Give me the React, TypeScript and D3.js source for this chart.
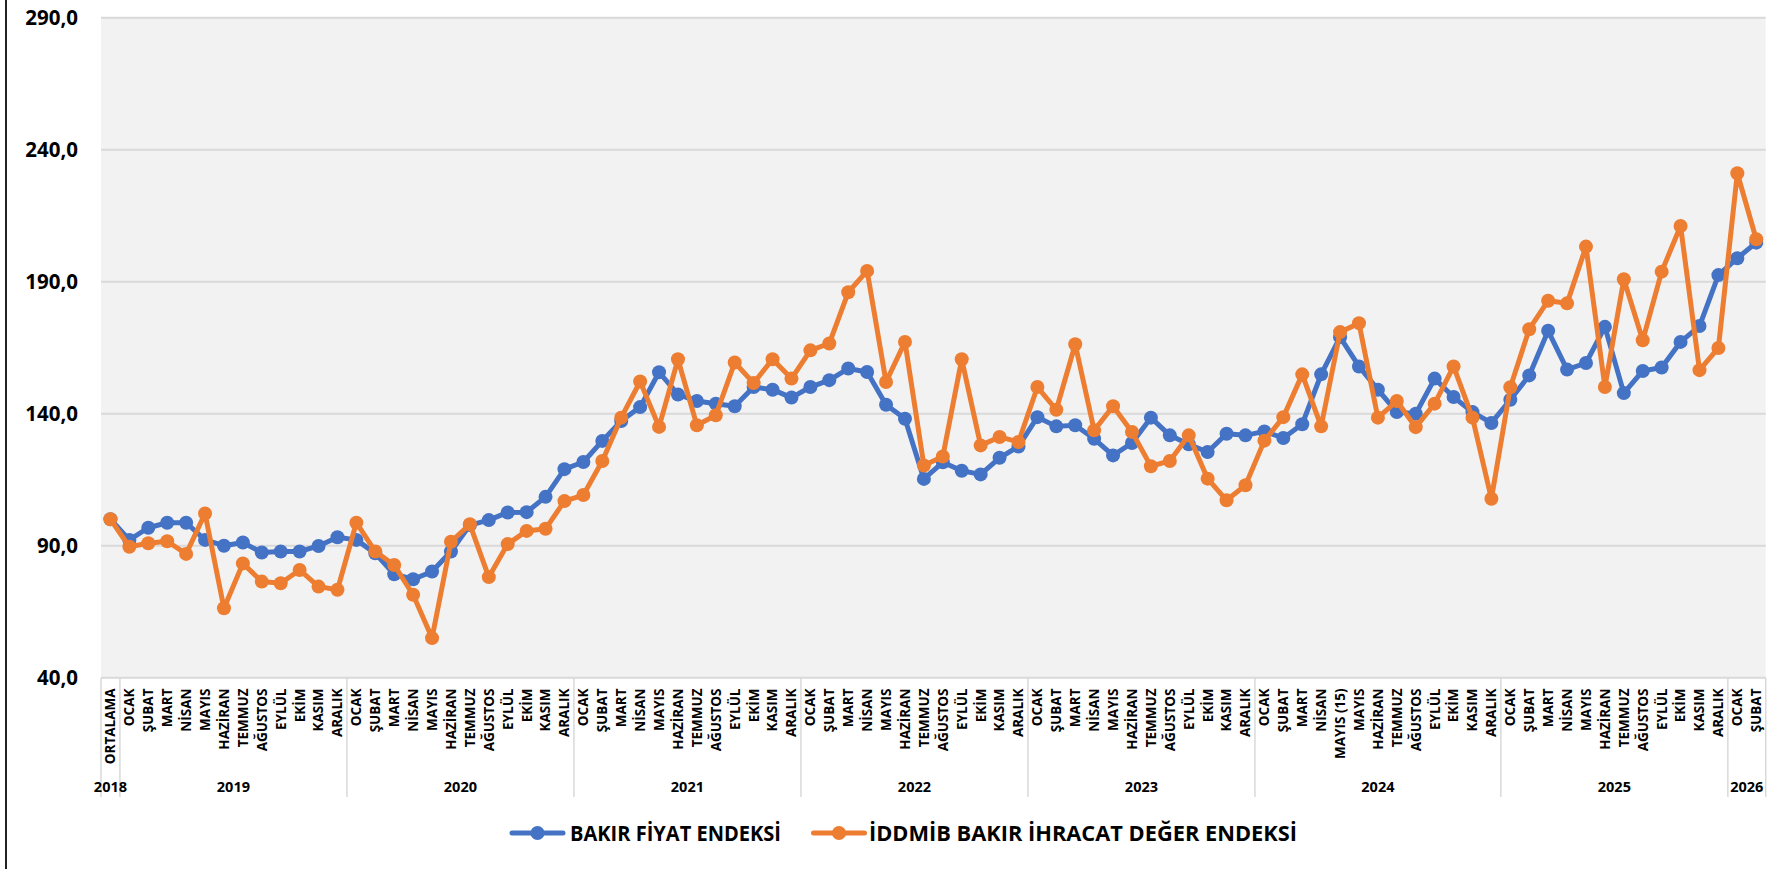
import React from 'react';
import * as d3 from 'd3';

const YEARS = ['2018', '2019', '2020', '2021', '2022', '2023', '2024', '2025', '2026'];
const MONTHS = ['OCAK', 'ŞUBAT', 'MART', 'NİSAN', 'MAYIS', 'HAZİRAN', 'TEMMUZ', 'AĞUSTOS', 'EYLÜL', 'EKİM', 'KASIM', 'ARALIK'];
const MONTHS_2024 = ['OCAK', 'ŞUBAT', 'MART', 'NİSAN', 'MAYIS (15)', 'MAYIS', 'HAZİRAN', 'TEMMUZ', 'AĞUSTOS', 'EYLÜL', 'EKİM', 'KASIM', 'ARALIK'];
const MONTHS_2026 = ['OCAK', 'ŞUBAT'];
const YEAR_CATEGORIES = [['ORTALAMA'], MONTHS, MONTHS, MONTHS, MONTHS, MONTHS, MONTHS_2024, MONTHS, MONTHS_2026];

const SERIES_NAMES = ['BAKIR FİYAT ENDEKSİ', 'İDDMİB BAKIR İHRACAT DEĞER ENDEKSİ'];

const PRICE_INDEX = [
  100,
  92.2, 96.8, 98.7, 98.7, 92.2, 90.0, 91.2, 87.4, 87.8, 87.8, 89.9, 93.2,
  92.2, 87.1, 79.2, 77.3, 80.2, 87.8, 97.8, 99.7, 102.6, 102.7, 108.5, 119.0,
  121.7, 129.7, 137.2, 142.5, 155.7, 147.3, 144.8, 143.8, 142.8, 150.1, 149.1, 146.1,
  150.1, 152.7, 157.1, 155.8, 143.4, 138.1, 115.3, 121.6, 118.4, 117.0, 123.3, 127.6,
  138.7, 135.2, 135.6, 130.5, 124.2, 128.9, 138.5, 131.8, 128.4, 125.5, 132.4, 131.8,
  133.3, 130.8, 136.0, 154.9, 169.0, 157.9, 149.1, 140.6, 140.0, 153.3, 146.3, 140.6, 136.5,
  145.3, 154.5, 171.4, 156.7, 159.2, 172.9, 147.8, 156.2, 157.5, 167.2, 173.2, 192.5,
  198.9, 204.8,
];

const EXPORT_INDEX = [
  100,
  89.6, 90.9, 91.7, 86.9, 102.2, 66.3, 83.3, 76.4, 75.8, 80.8, 74.5, 73.3,
  98.7, 87.8, 82.7, 71.4, 55.0, 91.5, 98.1, 78.1, 90.6, 95.6, 96.4, 106.9,
  109.2, 122.1, 138.5, 152.2, 135.0, 160.6, 135.6, 139.4, 159.4, 151.6, 160.6, 153.3,
  164.0, 166.6, 186.0, 194.1, 152.0, 167.2, 120.4, 123.8, 160.6, 128.0, 131.2, 129.3,
  150.1, 141.5, 166.3, 133.7, 142.8, 133.1, 120.1, 122.1, 131.8, 115.4, 107.2, 112.9,
  129.8, 138.7, 154.9, 135.2, 170.9, 174.3, 138.5, 144.8, 134.9, 143.8, 157.9, 138.5, 107.8,
  150.0, 172.0, 182.8, 181.8, 203.3, 150.1, 190.9, 167.8, 193.8, 211.1, 156.5, 164.9,
  231.1, 206.1,
];

const Y_TICKS = [40, 90, 140, 190, 240, 290];

const W = 1789;
const H = 869;
const BLUE = '#4472C4';
const ORANGE = '#ED7D31';
const FONT = '"Open Sans", "Noto Sans", sans-serif';

export default function App() {
  const categories: { year: string; label: string; key: string }[] = [];
  YEAR_CATEGORIES.forEach((months, yi) => {
    months.forEach((m, mi) => categories.push({ year: YEARS[yi], label: m, key: `${YEARS[yi]}-${mi}` }));
  });

  const x = d3.scaleBand<string>().domain(categories.map((c) => c.key)).range([101, 1765.7]).padding(0);
  const y = d3.scaleLinear().domain([40, 290]).range([677.7, 17.7]);
  const cx = (i: number) => (x(categories[i].key) as number) + x.bandwidth() / 2;

  const line = d3
    .line<number>()
    .x((_, i) => cx(i))
    .y((v) => y(v));

  const fmt = (v: number) => d3.format('.1f')(v).replace('.', ',');

  const groups: { year: string; start: number; end: number }[] = [];
  let idx = 0;
  YEAR_CATEGORIES.forEach((months, yi) => {
    groups.push({ year: YEARS[yi], start: idx, end: idx + months.length });
    idx += months.length;
  });
  const bx = (k: number) => (k < categories.length ? (x(categories[k].key) as number) : x.range()[1]);

  const series = [
    { name: SERIES_NAMES[0], values: PRICE_INDEX, color: BLUE },
    { name: SERIES_NAMES[1], values: EXPORT_INDEX, color: ORANGE },
  ];

  const legend = [
    { name: SERIES_NAMES[0], color: BLUE, lx: 512, tx: 570, tw: 211 },
    { name: SERIES_NAMES[1], color: ORANGE, lx: 813.5, tx: 869, tw: 428 },
  ];

  return (
    <svg width={W} height={H} style={{ position: 'absolute', left: 0, top: 0, background: '#fff' }}>
      <rect x={0} y={0} width={W} height={H} fill="#fff" />
      <line x1={6} x2={6} y1={0} y2={H} stroke="#222" strokeWidth={2} />
      <rect x={x.range()[0]} y={y(290)} width={x.range()[1] - x.range()[0]} height={y(40) - y(290)} fill="#F2F2F2" />
      {Y_TICKS.map((t) => (
        <g key={t}>
          <line x1={x.range()[0]} x2={x.range()[1]} y1={y(t)} y2={y(t)} stroke="#D9D9D9" strokeWidth={2} />
          <text x={78} y={y(t)} dy="0.36em" textAnchor="end" fontFamily={FONT} fontWeight={700} fontSize={20.5} fill="#000">
            {fmt(t)}
          </text>
        </g>
      ))}
      {groups.map((g) => (
        <line key={'s' + g.year} x1={bx(g.start)} x2={bx(g.start)} y1={678} y2={797} stroke="#D9D9D9" strokeWidth={1.5} />
      ))}
      <line x1={x.range()[1]} x2={x.range()[1]} y1={678} y2={797} stroke="#D9D9D9" strokeWidth={1.5} />
      {categories.map((c, i) => (
        <text
          key={'c' + c.key}
          transform={`translate(${cx(i)},688.5) rotate(-90)`}
          dy="0.36em"
          textAnchor="end"
          fontFamily={FONT}
          fontWeight={700}
          fontSize={13.5}
          fill="#000"
        >
          {c.label}
        </text>
      ))}
      {groups.map((g) => (
        <text
          key={'y' + g.year}
          x={(bx(g.start) + bx(g.end)) / 2}
          y={792}
          textAnchor="middle"
          fontFamily={FONT}
          fontWeight={700}
          fontSize={14.5}
          fill="#000"
        >
          {g.year}
        </text>
      ))}
      {series.map((s) => (
        <g key={s.name}>
          <path d={line(s.values) as string} fill="none" stroke={s.color} strokeWidth={5} strokeLinejoin="round" />
          {s.values.map((v, i) => (
            <circle key={i} cx={cx(i)} cy={y(v)} r={7} fill={s.color} />
          ))}
        </g>
      ))}
      {legend.map((l) => (
        <g key={'l' + l.name}>
          <line x1={l.lx} x2={l.lx + 51} y1={833} y2={833} stroke={l.color} strokeWidth={5} strokeLinecap="round" />
          <circle cx={l.lx + 25.5} cy={833} r={7} fill={l.color} />
          <text
            x={l.tx}
            y={833}
            dy="0.36em"
            fontFamily={FONT}
            fontWeight={700}
            fontSize={21}
            textLength={l.tw}
            lengthAdjust="spacingAndGlyphs"
            fill="#000"
          >
            {l.name}
          </text>
        </g>
      ))}
    </svg>
  );
}
